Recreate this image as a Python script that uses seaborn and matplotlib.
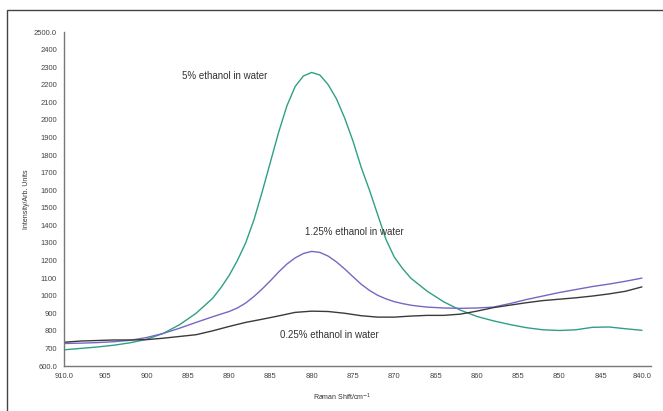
import pandas as pd
import matplotlib.pyplot as plt
import seaborn as sns
from matplotlib.patches import Rectangle

# Raman shift (cm-1), finer sampling around the 880 peak for the 5% trace
shift_5 = [910, 908, 906, 904, 902, 900, 898, 896, 894, 892,
           891, 890, 889, 888, 887, 886, 885, 884, 883, 882, 881, 880,
           879, 878, 877, 876, 875, 874, 873, 872, 871, 870, 869,
           868, 866, 864, 862, 860, 858, 856, 854, 852, 850, 848, 846, 844, 842, 840]
ethanol_5 = [692, 700, 708, 718, 732, 752, 785, 835, 900, 985,
             1045, 1115, 1200, 1300, 1430, 1590, 1760, 1930, 2080, 2190, 2250, 2270,
             2255, 2200, 2120, 2010, 1880, 1730, 1600, 1460, 1320, 1220, 1155,
             1100, 1025, 965, 918, 882, 857, 836, 818, 806, 802, 806, 820, 822, 812, 803]

shift_125 = [910, 908, 906, 904, 902, 900, 898, 896, 894,
             892, 891, 890, 889, 888, 887, 886, 885, 884, 883, 882, 881, 880,
             879, 878, 877, 876, 875, 874, 873, 872, 871, 870, 869, 868, 867, 866,
             864, 862, 860, 858, 856, 854, 852, 850, 848, 846, 844, 842, 840]
ethanol_125 = [728, 730, 733, 738, 746, 762, 785, 815, 848,
               880, 895, 910, 930, 958, 995, 1038, 1085, 1135, 1180, 1215, 1240, 1252,
               1246, 1225, 1192, 1152, 1108, 1065, 1030, 1002, 982, 966, 955, 946, 940, 935,
               930, 928, 930, 935, 955, 978, 998, 1018, 1035, 1052, 1066, 1082, 1100]

shift_025 = list(range(910, 839, -2))
ethanol_025 = [735, 742, 745, 748, 748, 750, 758, 768, 778, 800,
               825, 848, 866, 885, 905, 912, 910, 900, 886, 878,
               878, 884, 888, 888, 895, 912, 932, 946, 960, 972,
               980, 988, 998, 1010, 1025, 1050]

labels = ["5% ethanol in water", "1.25% ethanol in water", "0.25% ethanol in water"]
label_pos = [(895.7, 2248), (880.8, 1361), (883.8, 777)]

y_ticks = list(range(600, 2501, 100))
y_ticklabels = ["600.0"] + [str(v) for v in y_ticks[1:-1]] + ["2500.0"]
x_ticks = list(range(910, 839, -5))
x_ticklabels = ["910.0"] + [str(v) for v in x_ticks[1:-1]] + ["840.0"]

sns.set_style("white")
plt.rcParams['font.family'] = ['Liberation Sans', 'DejaVu Sans']

fig = plt.figure(figsize=(6.63, 4.11), dpi=100)
ax = fig.add_axes([64 / 663, 1 - 366 / 411, 587 / 663, 334 / 411])

df5 = pd.DataFrame({"shift": shift_5, "intensity": ethanol_5})
df125 = pd.DataFrame({"shift": shift_125, "intensity": ethanol_125})
df025 = pd.DataFrame({"shift": shift_025, "intensity": ethanol_025})

sns.lineplot(data=df5, x="shift", y="intensity", ax=ax, color="#2f9f86", lw=1.0)
sns.lineplot(data=df125, x="shift", y="intensity", ax=ax, color="#7468c4", lw=1.0)
sns.lineplot(data=df025, x="shift", y="intensity", ax=ax, color="#3a3a3a", lw=1.0)

for txt, (xx, yy) in zip(labels, label_pos):
    ax.text(xx, yy, txt, fontsize=7, color="#333333", ha="left", va="center")

ax.set_xlim(910, 838.9)
ax.set_ylim(600, 2500)
ax.set_xticks(x_ticks)
ax.set_xticklabels(x_ticklabels)
ax.set_yticks(y_ticks)
ax.set_yticklabels(y_ticklabels)
ax.tick_params(axis="both", labelsize=5.5, colors="#555555", length=3, width=0.8,
               direction="out", pad=2)
ax.tick_params(axis="both", labelcolor="#444444")
ax.set_xlabel("Raman Shift/cm$^{-1}$", fontsize=5, color="#333333")
ax.set_ylabel("Intensity/Arb. Units", fontsize=5, color="#333333")
ax.xaxis.set_label_coords(0.474, -0.078)
ax.yaxis.set_label_coords(-0.058, 0.5)

sns.despine(ax=ax)
for s in ["left", "bottom"]:
    ax.spines[s].set_color("#777777")
    ax.spines[s].set_linewidth(1.0)

# outer frame, open at right and bottom as in the source scan
fig.add_artist(Rectangle((7 / 663, -0.2), 1.2, 1.2 - 10 / 411,
                         transform=fig.transFigure, fill=False,
                         edgecolor="#444444", lw=1.0, clip_on=False))

fig.savefig("out.png", dpi=100)
